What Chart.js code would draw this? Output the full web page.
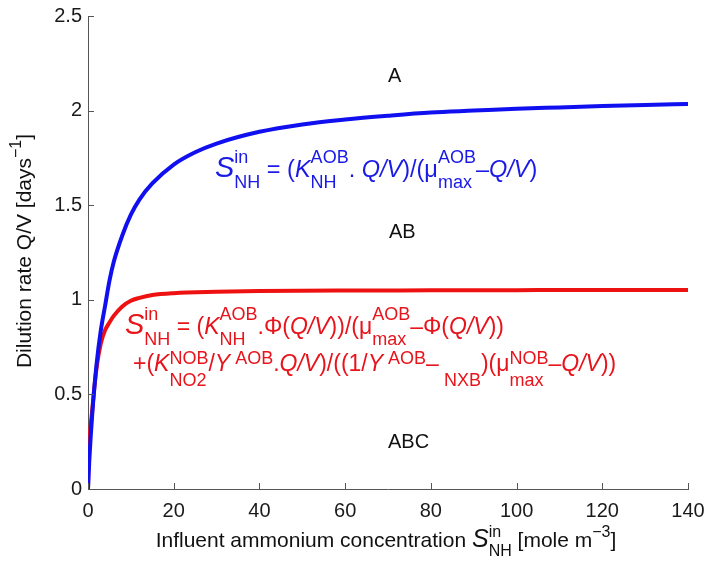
<!DOCTYPE html>
<html>
<head>
<meta charset="utf-8">
<script src="https://cdn.jsdelivr.net/npm/chart.js@4.4.1/dist/chart.umd.min.js"></script>
<style>
  html, body { margin: 0; padding: 0; background: #fff; }
</style>
</head>
<body>
<canvas id="chart" width="707" height="561"></canvas>
<script>
// values
const blueConc = [0, 0.3, 1, 2, 3, 4, 5, 6, 8, 10, 12, 15, 20, 25, 30, 40, 50, 60, 70, 80, 90, 100, 110, 120, 130, 140];
const blueRate = [0, 0.15, 0.40, 0.66, 0.84, 0.97, 1.10, 1.20, 1.34, 1.45, 1.53, 1.615, 1.715, 1.78, 1.826, 1.888, 1.927, 1.953, 1.973, 1.99, 2.0, 2.01, 2.017, 2.024, 2.03, 2.035];
const redConc = [0, 0.1, 0.5, 1, 1.5, 2, 3, 4, 5, 6, 8, 10, 12, 15, 20, 30, 40, 60, 80, 100, 120, 140];
const redRate = [0, 0.12, 0.30, 0.42, 0.54, 0.64, 0.77, 0.84, 0.88, 0.915, 0.965, 0.995, 1.01, 1.025, 1.035, 1.042, 1.046, 1.049, 1.05, 1.051, 1.052, 1.052];
const xTicks = [0, 20, 40, 60, 80, 100, 120, 140];
const yTicks = [0, 0.5, 1, 1.5, 2, 2.5];

const FAMILY = '"Liberation Sans", Arial, Helvetica, sans-serif';
const BLUE = '#0f0ff0';
const RED = '#ee1111';
const TXT_BLUE = '#1a1ae6';
const TXT_RED = '#e8141c';

function pts(xs, ys) {
    return xs.map((x, i) => ({ x: x, y: ys[i] }));
}

// draws a row of text parts; parts with sup/sub are stacked scripts
function drawRich(ctx, x, y, parts, color, opt) {
    const main = opt.main, big = opt.big, small = opt.small;
    ctx.save();
    ctx.fillStyle = color;
    ctx.textAlign = 'left';
    ctx.textBaseline = 'alphabetic';
    parts.forEach(p => {
        if (p.sup !== undefined || p.sub !== undefined) {
            ctx.font = small + 'px ' + FAMILY;
            let w = 0;
            if (p.sup) {
                ctx.fillText(p.sup, x, y - opt.up);
                w = ctx.measureText(p.sup).width;
            }
            if (p.sub) {
                ctx.fillText(p.sub, x, y + opt.down);
                w = Math.max(w, ctx.measureText(p.sub).width);
            }
            x += w;
        } else {
            ctx.font = (p.i ? 'italic ' : '') + (p.big ? big : main) + 'px ' + FAMILY;
            ctx.fillText(p.t, x, y);
            x += ctx.measureText(p.t).width;
        }
    });
    ctx.restore();
    return x;
}

function richWidth(ctx, parts, opt) {
    return drawRich(ctx, -3000, -3000, parts, 'rgba(0,0,0,0)', opt) + 3000;
}

const blueFormula = [
    { t: 'S', i: true, big: true }, { sup: 'in', sub: 'NH' },
    { t: ' = (' }, { t: 'K', i: true }, { sup: 'AOB', sub: 'NH' },
    { t: '. ' }, { t: 'Q/V', i: true }, { t: ')/(μ' }, { sup: 'AOB', sub: 'max' },
    { t: '–' }, { t: 'Q/V', i: true }, { t: ')' }
];
const redLine1 = [
    { t: 'S', i: true, big: true }, { sup: 'in', sub: 'NH' },
    { t: ' = (' }, { t: 'K', i: true }, { sup: 'AOB', sub: 'NH' },
    { t: '.Φ(' }, { t: 'Q/V', i: true }, { t: '))/(μ' }, { sup: 'AOB', sub: 'max' },
    { t: '–Φ(' }, { t: 'Q/V', i: true }, { t: '))' }
];
const redLine2 = [
    { t: '+(' }, { t: 'K', i: true }, { sup: 'NOB', sub: 'NO2' },
    { t: '/' }, { t: 'Y', i: true }, { sup: ' AOB' },
    { t: '.' }, { t: 'Q/V', i: true }, { t: ')/((1/' }, { t: 'Y', i: true }, { sup: ' AOB' },
    { t: '–' }, { sub: ' NXB' }, { t: ')(μ' }, { sup: 'NOB', sub: 'max' },
    { t: '–' }, { t: 'Q/V', i: true }, { t: '))' }
];

const decorations = {
    id: 'decorations',
    afterDraw(chart) {
        const ctx = chart.ctx;
        const xs = chart.scales.x, ys = chart.scales.y;
        const area = chart.chartArea;

        // inward tick marks
        ctx.save();
        ctx.strokeStyle = '#555';
        ctx.lineWidth = 1;
        ctx.beginPath();
        xTicks.forEach(v => {
            const px = Math.round(xs.getPixelForValue(v)) + 0.5;
            ctx.moveTo(px, area.bottom);
            ctx.lineTo(px, area.bottom - 6);
        });
        yTicks.forEach(v => {
            const py = Math.round(ys.getPixelForValue(v)) + 0.5;
            ctx.moveTo(area.left, py);
            ctx.lineTo(area.left + 6, py);
        });
        ctx.stroke();
        ctx.restore();

        // region labels
        ctx.save();
        ctx.fillStyle = '#111';
        ctx.font = '20px ' + FAMILY;
        ctx.textAlign = 'left';
        ctx.textBaseline = 'alphabetic';
        ctx.fillText('A', 388, 82);
        ctx.fillText('AB', 389, 238);
        ctx.fillText('ABC', 388, 448);
        ctx.restore();

        drawRich(ctx, 215, 177, blueFormula, TXT_BLUE,
            { main: 23.5, big: 29, small: 18, up: 14, down: 11 });
        drawRich(ctx, 125, 334, redLine1, TXT_RED,
            { main: 23, big: 29, small: 18, up: 14, down: 11 });
        drawRich(ctx, 133, 371, redLine2, TXT_RED,
            { main: 23, big: 29, small: 18, up: 7, down: 15 });

        // axis titles
        const tOpt = { main: 21, big: 25, small: 16, up: 10, down: 9 };
        const xTitle = [
            { t: 'Influent ammonium concentration ' },
            { t: 'S', i: true, big: true }, { sup: 'in', sub: 'NH' },
            { t: ' [mole m' }, { sup: '−3' }, { t: ']' }
        ];
        const wx = richWidth(ctx, xTitle, tOpt);
        drawRich(ctx, 386 - wx / 2, 547, xTitle, '#111', tOpt);

        const yTitle = [
            { t: 'Dilution rate Q/V [days' }, { sup: '−1' }, { t: ']' }
        ];
        const wy = richWidth(ctx, yTitle, tOpt);
        ctx.save();
        ctx.translate(31, 251);
        ctx.rotate(-Math.PI / 2);
        drawRich(ctx, -wy / 2, 0, yTitle, '#111', tOpt);
        ctx.restore();
    }
};

new Chart(document.getElementById('chart'), {
    type: 'line',
    data: {
        datasets: [
            {
                label: 'AOB boundary',
                data: pts(blueConc, blueRate),
                borderColor: BLUE,
                borderWidth: 4,
                pointRadius: 0,
                cubicInterpolationMode: 'monotone',
                fill: false
            },
            {
                label: 'NOB boundary',
                data: pts(redConc, redRate),
                borderColor: RED,
                borderWidth: 4,
                pointRadius: 0,
                cubicInterpolationMode: 'monotone',
                fill: false
            }
        ]
    },
    options: {
        responsive: false,
        devicePixelRatio: 1,
        animation: false,
        layout: { padding: { left: 0, right: 19, top: 16, bottom: 0 } },
        plugins: {
            legend: { display: false },
            tooltip: { enabled: false }
        },
        scales: {
            x: {
                type: 'linear',
                min: 0,
                max: 140,
                grid: { display: false, drawTicks: false, tickLength: 0 },
                border: { display: true, color: '#555', width: 1 },
                ticks: {
                    stepSize: 20,
                    padding: 10,
                    color: '#1a1a1a',
                    font: { family: FAMILY, size: 20 },
                    maxRotation: 0
                },
                afterFit(scale) {
                    scale.height = 72;
                    scale.paddingLeft = 0;
                    scale.paddingRight = 0;
                }
            },
            y: {
                type: 'linear',
                min: 0,
                max: 2.5,
                grid: { display: false, drawTicks: false, tickLength: 0 },
                border: { display: true, color: '#555', width: 1 },
                ticks: {
                    stepSize: 0.5,
                    padding: 6,
                    color: '#1a1a1a',
                    font: { family: FAMILY, size: 20 },
                    callback: v => String(v)
                },
                afterFit(scale) {
                    scale.width = 88;
                    scale.paddingTop = 0;
                    scale.paddingBottom = 0;
                }
            }
        }
    },
    plugins: [decorations]
});
</script>
</body>
</html>
